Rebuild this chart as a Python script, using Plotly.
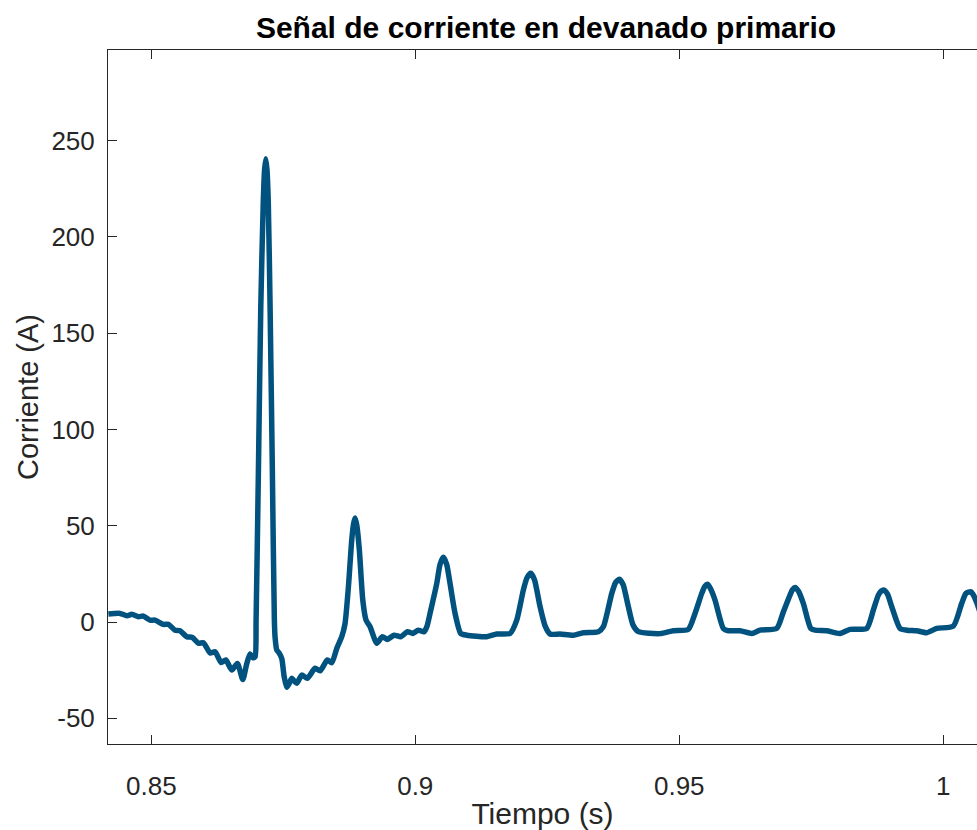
import plotly.graph_objects as go

# Primary-winding current trace (time in s, current in A)
tiempo = [
    0.84187, 0.84409, 0.84536, 0.84631, 0.84756, 0.84850, 0.84977, 0.85072,
    0.85229, 0.85324, 0.85451, 0.85545, 0.85672, 0.85778, 0.85892, 0.85987,
    0.86114, 0.86208, 0.86322, 0.86411, 0.86525, 0.86631, 0.86733, 0.86809,
    0.86871, 0.86928, 0.86966,
    0.86985, 0.87028, 0.87074, 0.87121, 0.87146, 0.87169, 0.87191, 0.87216,
    0.87250, 0.87294, 0.87331,
    0.87345, 0.87377, 0.87420, 0.87472, 0.87515, 0.87566, 0.87610, 0.87661,
    0.87705, 0.87756, 0.87850, 0.87956, 0.88102, 0.88197, 0.88335, 0.88419,
    0.88513, 0.88608, 0.88670, 0.88733, 0.88797, 0.88832, 0.88860, 0.88894,
    0.88941, 0.89006, 0.89068, 0.89144, 0.89271, 0.89377, 0.89472, 0.89598,
    0.89725, 0.89850, 0.89953, 0.90059, 0.90167, 0.90224, 0.90280, 0.90407,
    0.90470, 0.90532, 0.90595, 0.90659, 0.90754, 0.90862, 0.90975, 0.91354,
    0.91544, 0.91795, 0.91922, 0.92047, 0.92117, 0.92188, 0.92258, 0.92364,
    0.92459, 0.92553, 0.92743, 0.92994, 0.93184, 0.93468, 0.93563, 0.93722,
    0.93794, 0.93866, 0.93936, 0.94036, 0.94125, 0.94225, 0.94636, 0.94889,
    0.95172, 0.95299, 0.95426, 0.95483, 0.95536, 0.95598, 0.95678, 0.95835,
    0.95930, 0.96152, 0.96373, 0.96530, 0.96847, 0.96972, 0.97098, 0.97146,
    0.97193, 0.97259, 0.97350, 0.97491, 0.97572, 0.97794, 0.98045, 0.98235,
    0.98551, 0.98676, 0.98771, 0.98822, 0.98879, 0.98945, 0.99025, 0.99182,
    0.99309, 0.99498, 0.99688, 0.99877, 1.00191, 1.00350, 1.00432, 1.00527,
    1.00583, 1.00640, 1.00697,
]
corriente = [
    4.2, 4.5, 3.3, 4.0, 2.8, 3.1, 1.0, 1.0,
    -1.2, -1.2, -4.2, -4.5, -7.6, -8.0, -11.0, -10.7,
    -16.0, -15.4, -21.0, -19.7, -24.9, -21.5, -29.8, -21.5,
    -16.6, -18.5, -18.0,
    1.0, 77.0, 164.0, 218.0, 235.0, 240.5, 235.0, 218.0,
    164.0, 77.0, 1.0,
    -8.0, -14.5, -16.0, -19.0, -28.0, -33.9, -32.0, -29.2,
    -30.5, -31.8, -27.5, -29.2, -24.0, -25.3, -19.7, -21.1,
    -13.7, -7.6, -0.7, 18.0, 42.6, 51.0, 54.0, 50.0,
    37.4, 11.4, 1.0, -2.4, -11.0, -7.6, -9.0, -6.8,
    -7.6, -5.0, -5.9, -4.2, -5.0, -2.0, 4.5, 20.0,
    30.0, 33.6, 30.0, 20.0, 4.5, -5.9, -6.8, -7.6,
    -6.2, -5.9, 1.0, 16.6, 23.0, 25.3, 22.0, 8.0,
    -2.0, -6.2, -6.2, -6.8, -5.5, -5.0, -2.4, 14.9,
    20.5, 22.2, 19.5, 8.0, -1.5, -5.0, -6.0, -4.5,
    -3.8, 4.5, 14.9, 18.5, 19.6, 17.0, 11.4, -3.3,
    -4.5, -4.5, -5.9, -4.2, -3.3, 5.3, 14.0, 16.8,
    18.0, 16.0, 9.7, -3.3, -4.2, -4.5, -5.9, -3.8,
    -3.3, 6.2, 14.0, 16.0, 16.6, 14.5, 8.0, -3.3,
    -4.2, -4.5, -5.5, -3.3, -2.1, 9.7, 14.9, 15.7,
    13.5, 9.7, 5.0,
]

x_ticks = [0.85, 0.9, 0.95, 1.0]
x_tick_labels = ["0.85", "0.9", "0.95", "1"]
y_ticks = [-50, 0, 50, 100, 150, 200, 250]
y_tick_labels = ["-50", "0", "50", "100", "150", "200", "250"]

x_range = [0.8418, 1.0064]
y_range = [-63.3, 297.0]

axis_gray = "#262626"
line_blue = "#02527f"
font_family = "Liberation Sans, Arial, Helvetica, sans-serif"

fig = go.Figure()
fig.add_trace(go.Scatter(
    x=tiempo, y=corriente, mode="lines",
    line=dict(color=line_blue, width=5.5, shape="spline", smoothing=0.6),
    hoverinfo="skip", showlegend=False,
))

fig.update_layout(
    width=977, height=830,
    margin=dict(l=108, r=0, t=50, b=86),
    paper_bgcolor="white", plot_bgcolor="white",
    font=dict(family=font_family, color=axis_gray, size=26),
    title=dict(
        text="<b>Señal de corriente en devanado primario</b>",
        font=dict(family=font_family, size=30, color="black"),
        x=546 / 977, xanchor="center", xref="container",
        y=1 - 27 / 830, yanchor="middle", yref="container",
    ),
    showlegend=False,
)

fig.update_xaxes(
    range=x_range, tickmode="array", tickvals=x_ticks, ticktext=x_tick_labels,
    ticks="inside", ticklen=9, tickwidth=1, tickcolor=axis_gray,
    showline=True, linecolor=axis_gray, linewidth=1, mirror="ticks",
    showgrid=False, zeroline=False,
    tickfont=dict(size=26, color=axis_gray), ticklabelstandoff=19,
    title=dict(text="Tiempo (s)", font=dict(size=30, color=axis_gray), standoff=8),
)
fig.update_yaxes(
    range=y_range, tickmode="array", tickvals=y_ticks, ticktext=y_tick_labels,
    ticks="inside", ticklen=9, tickwidth=1, tickcolor=axis_gray,
    showline=True, linecolor=axis_gray, linewidth=1, mirror=False,
    showgrid=False, zeroline=False,
    tickfont=dict(size=26, color=axis_gray), ticklabelstandoff=7,
    title=dict(text="Corriente (A)", font=dict(size=29, color=axis_gray), standoff=4),
)

fig.write_html("out.html")
